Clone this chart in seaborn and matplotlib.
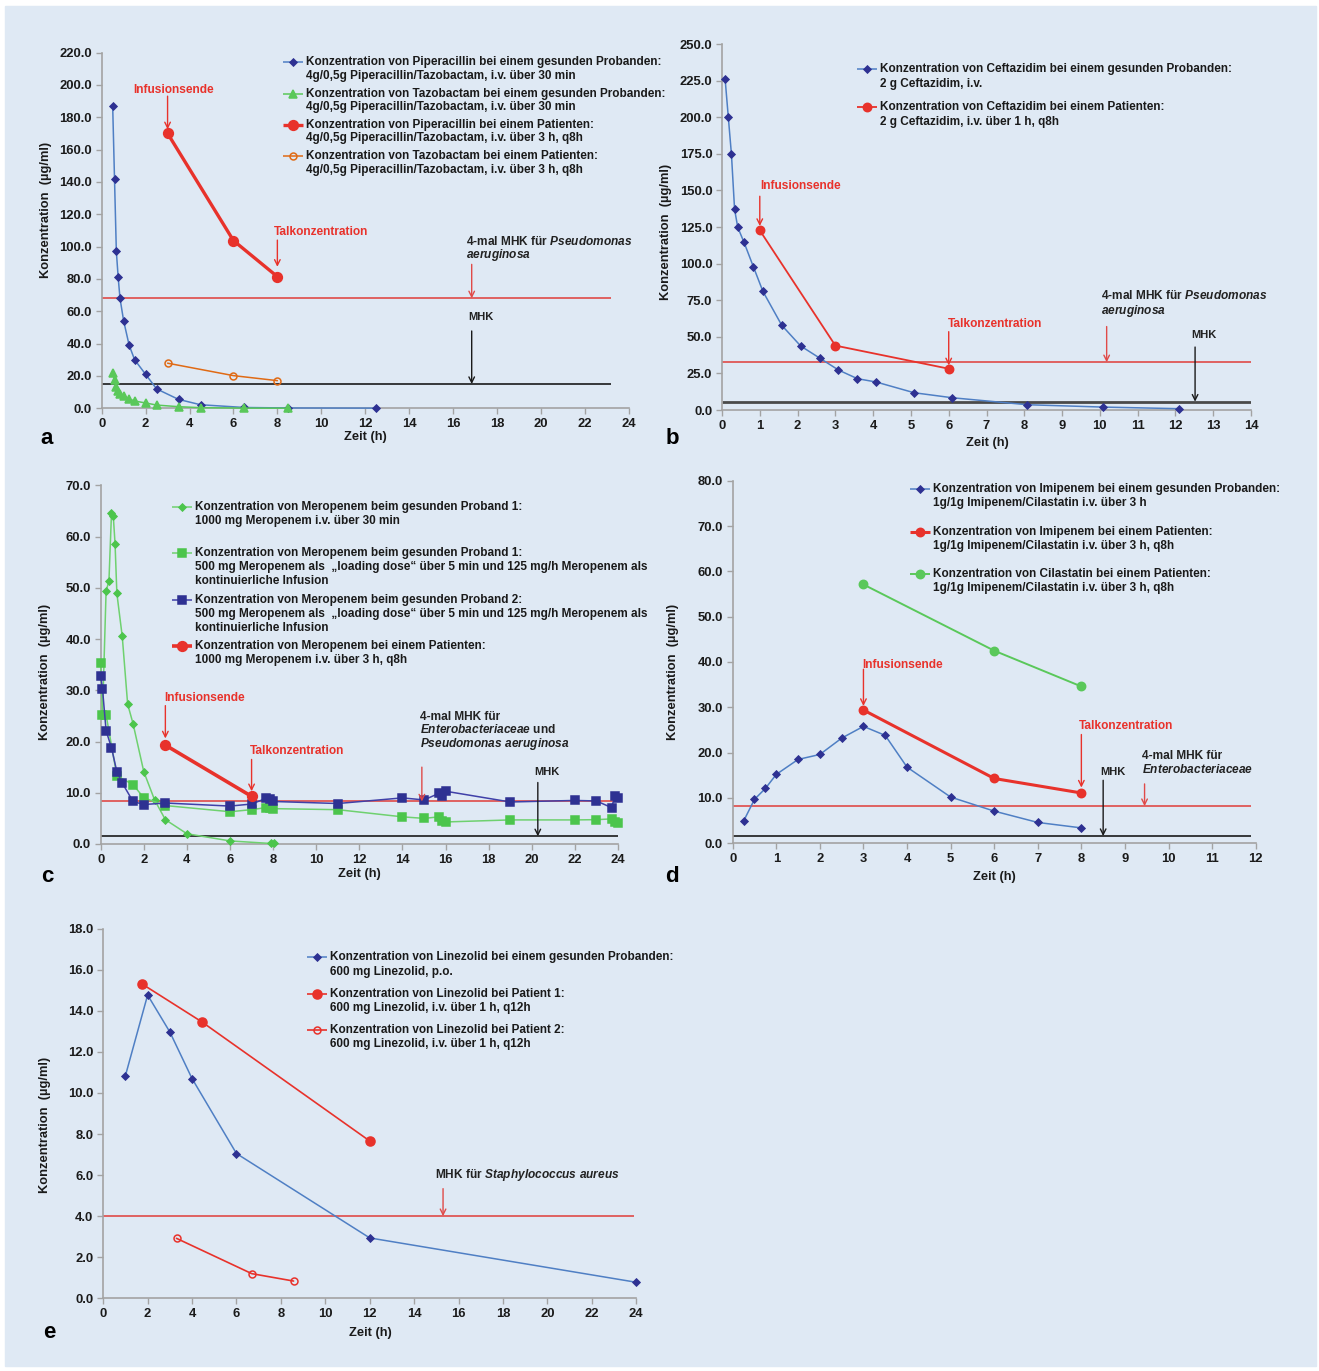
import matplotlib
matplotlib.use("Agg")
import matplotlib.pyplot as plt
import seaborn as sns
from matplotlib.patches import Rectangle

sns.set_style("ticks")
plt.rcParams['font.family'] = ['Liberation Sans', 'DejaVu Sans']
plt.rcParams['mathtext.fontset'] = 'custom'
plt.rcParams['mathtext.it'] = 'Liberation Sans:italic:bold'
plt.rcParams['mathtext.rm'] = 'Liberation Sans:bold'

W, H = 1319, 1371
BG = '#dfe9f4'
BLUE_LINE, BLUE_MK = '#4f7fc4', '#2e3192'
RED, ORANGE = '#e8322b', '#e06a14'
GREEN = '#5ac85a'
REFRED, BLACK = '#e04a48', '#1a1a1a'
LEG_FS, ANN_FS, TICK_FS, AX_FS = 8.5, 8.6, 9.4, 9.3

# ---------------- data ----------------
# a: Piperacillin / Tazobactam
a_pip_h_t = [0.5, 0.583, 0.667, 0.75, 0.833, 1, 1.25, 1.5, 2, 2.5, 3.5, 4.5, 6.5, 8.5, 12.5]
a_pip_h_c = [187, 142, 97, 81, 68, 54, 39, 30, 21, 12, 5.5, 2.2, 0.5, 0.2, 0.1]
a_taz_h_t = [0.5, 0.583, 0.667, 0.75, 0.833, 1, 1.25, 1.5, 2, 2.5, 3.5, 4.5, 6.5, 8.5]
a_taz_h_c = [22, 17.5, 13.4, 11, 8.7, 7.8, 5.8, 4.5, 3.3, 2.0, 1.0, 0.4, 0.1, 0.05]
a_pip_p_t = [3, 6, 8]
a_pip_p_c = [170, 103.7, 81.4]
a_taz_p_t = [3, 6, 8]
a_taz_p_c = [27.9, 20.2, 17.1]
a_mhk4, a_mhk, a_end = 68, 15, 23.2

# b: Ceftazidim
b_h_t = [0.083, 0.167, 0.25, 0.333, 0.417, 0.583, 0.833, 1.083, 1.583, 2.083, 2.583,
         3.083, 3.583, 4.083, 5.083, 6.083, 8.083, 10.083, 12.083]
b_h_c = [225.9, 200, 174.6, 137, 124.8, 114.5, 97.7, 81, 57.8, 43.7, 35.5,
         27.3, 21.4, 19.1, 11.8, 8.4, 3.6, 2.0, 0.9]
b_p_t = [1, 3, 6]
b_p_c = [122.7, 44, 28.2]
b_mhk4, b_mhk, b_end = 32.6, 5.7, 14

# c: Meropenem
c_p1_bolus_t = [0.083, 0.25, 0.383, 0.5, 0.583, 0.667, 0.75, 1, 1.25, 1.5, 2, 2.5, 3, 4, 6, 7.9, 8.05]
c_p1_bolus_c = [25.2, 49.3, 51.4, 64.5, 64.1, 58.5, 48.9, 40.5, 27.3, 23.5, 14.1, 8.6, 4.75, 2.0, 0.6, 0.1, 0.1]
c_p1_cont_t = [0, 0.083, 0.25, 0.75, 1.5, 2, 3, 6, 7, 7.67, 7.84, 8, 11, 14, 15, 15.7, 15.85,
               16, 19, 22, 23, 23.7, 23.85, 24]
c_p1_cont_c = [35.4, 25.2, 25.2, 13.3, 11.6, 9.0, 7.5, 6.3, 6.7, 7.1, 7.1, 6.9, 6.7, 5.3, 5.0, 5.3,
               4.4, 4.3, 4.7, 4.7, 4.75, 4.9, 4.2, 4.1]
c_p2_cont_t = [0, 0.083, 0.25, 0.5, 0.75, 1, 1.5, 2, 3, 6, 7, 7.67, 7.85, 8, 11, 14, 15, 15.7,
               15.85, 16, 19, 22, 23, 23.7, 23.85, 24]
c_p2_cont_c = [32.8, 30.3, 22.1, 18.8, 14.1, 11.9, 8.3, 7.7, 8.0, 7.4, 7.8, 8.9, 8.7, 8.3, 7.9,
               9.0, 8.6, 9.9, 9.4, 10.3, 8.2, 8.5, 8.4, 7.1, 9.3, 9.0]
c_pat_t = [3, 7]
c_pat_c = [19.3, 9.3]
c_mhk4, c_mhk, c_end = 8.3, 1.5, 24

# d: Imipenem / Cilastatin
d_h_t = [0.25, 0.5, 0.75, 1, 1.5, 2, 2.5, 3, 3.5, 4, 5, 6, 7, 8]
d_h_c = [4.9, 9.7, 12.1, 15.2, 18.5, 19.6, 23.2, 25.8, 23.8, 16.8, 10.2, 7.1, 4.6, 3.4]
d_imi_p_t = [3, 6, 8]
d_imi_p_c = [29.4, 14.3, 11.1]
d_cil_p_t = [3, 6, 8]
d_cil_p_c = [57.1, 42.5, 34.6]
d_mhk4, d_mhk, d_end = 8.2, 1.6, 11.9

# e: Linezolid
e_h_t = [1, 2, 3, 4, 6, 12, 24]
e_h_c = [10.84, 14.77, 12.97, 10.7, 7.05, 2.94, 0.78]
e_p1_t = [1.76, 4.43, 12]
e_p1_c = [15.3, 13.47, 7.66]
e_p2_t = [3.3, 6.69, 8.57]
e_p2_c = [2.92, 1.2, 0.84]
e_mhk, e_end = 4.0, 23.9

# legend texts
leg_a = [["Konzentration von Piperacillin bei einem gesunden Probanden:",
          "4g/0,5g Piperacillin/Tazobactam, i.v. über 30 min"],
         ["Konzentration von Tazobactam bei einem gesunden Probanden:",
          "4g/0,5g Piperacillin/Tazobactam, i.v. über 30 min"],
         ["Konzentration von Piperacillin bei einem Patienten:",
          "4g/0,5g Piperacillin/Tazobactam, i.v. über 3 h, q8h"],
         ["Konzentration von Tazobactam bei einem Patienten:",
          "4g/0,5g Piperacillin/Tazobactam, i.v. über 3 h, q8h"]]
leg_b = [["Konzentration von Ceftazidim bei einem gesunden Probanden:", "2 g Ceftazidim, i.v."],
         ["Konzentration von Ceftazidim bei einem Patienten:", "2 g Ceftazidim, i.v. über 1 h, q8h"]]
leg_c = [["Konzentration von Meropenem beim gesunden Proband 1:", "1000 mg Meropenem i.v. über 30 min"],
         ["Konzentration von Meropenem beim gesunden Proband 1:",
          "500 mg Meropenem als  \u201eloading dose\u201c über 5 min und 125 mg/h Meropenem als",
          "kontinuierliche Infusion"],
         ["Konzentration von Meropenem beim gesunden Proband 2:",
          "500 mg Meropenem als  \u201eloading dose\u201c über 5 min und 125 mg/h Meropenem als",
          "kontinuierliche Infusion"],
         ["Konzentration von Meropenem bei einem Patienten:", "1000 mg Meropenem i.v. über 3 h, q8h"]]
leg_d = [["Konzentration von Imipenem bei einem gesunden Probanden:",
          "1g/1g Imipenem/Cilastatin i.v. über 3 h"],
         ["Konzentration von Imipenem bei einem Patienten:",
          "1g/1g Imipenem/Cilastatin i.v. über 3 h, q8h"],
         ["Konzentration von Cilastatin bei einem Patienten:",
          "1g/1g Imipenem/Cilastatin i.v. über 3 h, q8h"]]
leg_e = [["Konzentration von Linezolid bei einem gesunden Probanden:", "600 mg Linezolid, p.o."],
         ["Konzentration von Linezolid bei Patient 1:", "600 mg Linezolid, i.v. über 1 h, q12h"],
         ["Konzentration von Linezolid bei Patient 2:", "600 mg Linezolid, i.v. über 1 h, q12h"]]

# ---------------- figure ----------------
fig = plt.figure(figsize=(W / 100, H / 100), dpi=100, facecolor='white')
ov = fig.add_axes([0, 0, 1, 1])
ov.set_xlim(0, W)
ov.set_ylim(H, 0)
ov.axis('off')
ov.add_patch(Rectangle((5, 6), 1311, 1360, color=BG, zorder=0))


def panel(x0, x1, y_top, y0, xmax, xstep, ymax, ystep):
    ax = fig.add_axes([x0 / W, 1 - y0 / H, (x1 - x0) / W, (y0 - y_top) / H])
    ax.patch.set_visible(False)
    ax.set_xlim(0, xmax)
    ax.set_ylim(0, ymax)
    ax.set_xticks(range(0, xmax + 1, xstep))
    yt = [i * ystep for i in range(int(round(ymax / ystep)) + 1)]
    ax.set_yticks(yt)
    ax.set_yticklabels([f"{v:.1f}" for v in yt])
    for s in ['top', 'right']:
        ax.spines[s].set_visible(False)
    for s in ['left', 'bottom']:
        ax.spines[s].set_color('#a3a3a3')
        ax.spines[s].set_linewidth(1.2)
    ax.tick_params(direction='out', length=4, width=1, color='#a3a3a3', pad=3,
                   labelsize=TICK_FS, labelcolor=BLACK)
    for lab in ax.get_xticklabels() + ax.get_yticklabels():
        lab.set_fontweight('bold')
    ax.set_xlabel('')
    ax.set_ylabel('')
    return ax


def series(ax, t, c, color, marker, ms, lw, mfc=None, mec=None, mew=1.1, z=4):
    sns.lineplot(x=t, y=c, ax=ax, color=color, lw=lw, marker=marker, ms=ms,
                 mfc=mfc if mfc else color, mec=mec if mec else (mfc if mfc else color),
                 mew=mew, estimator=None, sort=False, clip_on=False, zorder=z)


def blue(ax, t, c):
    series(ax, t, c, BLUE_LINE, 'D', 4, 1.1, BLUE_MK, mew=0.6)


def ref(ax, y, end, color, lw=1.2):
    ax.hlines(y, 0, end, color=color, lw=lw, zorder=2)


def arrow(ax, x, y_from, y_to, color):
    ax.annotate('', xy=(x, y_to), xytext=(x, y_from),
                arrowprops=dict(arrowstyle='->', color=color, lw=1.0,
                                mutation_scale=10, shrinkA=0, shrinkB=0), zorder=5)


def label(ax, x, y, s, color, ha='center', fs=ANN_FS):
    ax.text(x, y, s, color=color, ha=ha, va='center', fontsize=fs, fontweight='bold', zorder=6)


def legend(x, ys, texts, styles, step=14):
    for y, lines, st in zip(ys, texts, styles):
        color, marker, ms, lw, mfc, mec, mew = st
        ov.plot([x, x + 20], [y, y], color=color, lw=lw, solid_capstyle='butt', zorder=3)
        ov.plot([x + 10], [y], marker=marker, ms=ms, mfc=mfc, mec=mec, mew=mew, ls='none', zorder=4)
        for i, s in enumerate(lines):
            ov.text(x + 23, y + i * step, s, ha='left', va='center', fontsize=LEG_FS,
                    fontweight='bold', color=BLACK)


def axis_labels(ylab_xy, xlab_xy, letter_xy, letter):
    ov.text(*ylab_xy, 'Konzentration  (µg/ml)', rotation=90, ha='center', va='center',
            fontsize=AX_FS, fontweight='bold', color=BLACK)
    ov.text(*xlab_xy, 'Zeit (h)', ha='center', va='center', fontsize=AX_FS,
            fontweight='bold', color=BLACK)
    ov.text(*letter_xy, letter, ha='center', va='center', fontsize=16,
            fontweight='bold', color='black')


MHK4 = '4-mal MHK für '
BLUE_ST = (BLUE_LINE, 'D', 4, 1.1, BLUE_MK, BLUE_MK, 0.6)

# ---- panel a ----
ax = panel(101.7, 628.7, 52.5, 408.3, 24, 2, 220, 20)
ref(ax, a_mhk4, a_end, REFRED)
ref(ax, a_mhk, a_end, BLACK)
blue(ax, a_pip_h_t, a_pip_h_c)
series(ax, a_taz_h_t, a_taz_h_c, GREEN, '^', 5.5, 1.1)
series(ax, a_pip_p_t, a_pip_p_c, RED, 'o', 7, 2.4)
series(ax, a_taz_p_t, a_taz_p_c, ORANGE, 'o', 5, 1.1, 'none', ORANGE)
label(ax, 3.25, 197, 'Infusionsende', RED)
arrow(ax, 3, 193, 172.5, RED)
label(ax, 10.0, 109, 'Talkonzentration', RED)
arrow(ax, 8, 104, 87.5, RED)
label(ax, 16.6, 103.4, MHK4 + r'$\mathit{Pseudomonas}$', '#222222', ha='left')
label(ax, 16.6, 94.8, r'$\mathit{aeruginosa}$', '#222222', ha='left')
arrow(ax, 16.85, 89, 68, REFRED)
label(ax, 17.26, 56.2, 'MHK', '#222222', fs=8)
arrow(ax, 16.85, 47.8, 15, BLACK)
legend(283, [62, 93.5, 125, 156], leg_a,
       [BLUE_ST, (GREEN, '^', 5.5, 1.1, GREEN, GREEN, 1.1),
        (RED, 'o', 7, 2.4, RED, RED, 1.1), (ORANGE, 'o', 5, 1.1, 'none', ORANGE, 1.1)], step=13.5)
axis_labels((46, 210), (365, 437), (47, 439), 'a')

# ---- panel b ----
ax = panel(722, 1251, 44, 410, 14, 1, 250, 25)
ref(ax, b_mhk4, b_end, REFRED)
ref(ax, b_mhk, b_end, '#4a4a4a', lw=2)
blue(ax, b_h_t, b_h_c)
series(ax, b_p_t, b_p_c, RED, 'o', 6, 1.3)
label(ax, 2.08, 153, 'Infusionsende', RED)
arrow(ax, 1.0, 146, 125.7, RED)
label(ax, 7.23, 58.7, 'Talkonzentration', RED)
arrow(ax, 6, 53.5, 30.5, RED)
label(ax, 10.04, 78.5, MHK4 + r'$\mathit{Pseudomonas}$', '#222222', ha='left')
label(ax, 10.04, 67.6, r'$\mathit{aeruginosa}$', '#222222', ha='left')
arrow(ax, 10.18, 57, 32.6, REFRED)
label(ax, 12.76, 51, 'MHK', '#222222', fs=8)
arrow(ax, 12.52, 43, 5.7, BLACK)
legend(857, [69, 107], leg_b, [BLUE_ST, (RED, 'o', 6, 1.3, RED, RED, 1.1)], step=15)
axis_labels((666, 232), (987, 443), (672, 439), 'b')

# ---- panel c ----
ax = panel(100.7, 618, 485.3, 844, 24, 2, 70, 10)
ref(ax, c_mhk4, c_end, REFRED)
ref(ax, c_mhk, c_end, BLACK)
series(ax, c_p1_bolus_t, c_p1_bolus_c, '#6fd16f', 'D', 4, 1.1, '#4cc54c', mew=0.6)
series(ax, c_p1_cont_t, c_p1_cont_c, '#6fd16f', 's', 5.5, 1.1, '#4cc54c')
series(ax, c_p2_cont_t, c_p2_cont_c, '#4040a8', 's', 5.5, 1.1, '#2e3192')
series(ax, c_pat_t, c_pat_c, RED, 'o', 7, 2.6)
label(ax, 4.83, 28.4, 'Infusionsende', RED)
arrow(ax, 3, 27, 20.6, RED)
label(ax, 9.1, 18.1, 'Talkonzentration', RED)
arrow(ax, 7, 16.5, 10.3, RED)
label(ax, 14.8, 24.7, '4-mal MHK für', '#222222', ha='left')
label(ax, 14.8, 22.25, r'$\mathit{Enterobacteriaceae}$' + ' und', '#222222', ha='left')
label(ax, 14.8, 19.5, r'$\mathit{Pseudomonas\ aeruginosa}$', '#222222', ha='left')
arrow(ax, 14.9, 15, 8.3, REFRED)
label(ax, 20.7, 14.1, 'MHK', '#222222', fs=8)
arrow(ax, 20.28, 12, 1.5, BLACK)
legend(172, [507, 553, 600, 646], leg_c,
       [('#6fd16f', 'D', 4, 1.1, '#4cc54c', '#4cc54c', 0.6),
        ('#6fd16f', 's', 5.5, 1.1, '#4cc54c', '#4cc54c', 1.1),
        ('#4040a8', 's', 5.5, 1.1, '#2e3192', '#2e3192', 1.1),
        (RED, 'o', 7, 2.6, RED, RED, 1.1)], step=13.8)
axis_labels((45, 672), (359, 874), (47, 877), 'c')

# ---- panel d ----
ax = panel(732.7, 1255.7, 480.7, 843.3, 12, 1, 80, 10)
ref(ax, d_mhk4, d_end, REFRED)
ref(ax, d_mhk, d_end, BLACK)
blue(ax, d_h_t, d_h_c)
series(ax, d_imi_p_t, d_imi_p_c, RED, 'o', 6, 2.2)
series(ax, d_cil_p_t, d_cil_p_c, GREEN, 'o', 6, 1.4)
label(ax, 3.9, 39.4, 'Infusionsende', RED)
arrow(ax, 3, 38.4, 30.3, RED)
label(ax, 9.03, 25.9, 'Talkonzentration', RED)
arrow(ax, 8, 24.0, 12.3, RED)
label(ax, 9.4, 19.3, '4-mal MHK für', '#222222', ha='left')
label(ax, 9.4, 16.2, r'$\mathit{Enterobacteriaceae}$', '#222222', ha='left')
arrow(ax, 9.45, 13.1, 8.2, REFRED)
label(ax, 8.72, 15.7, 'MHK', '#222222', fs=8)
arrow(ax, 8.5, 13.9, 1.6, BLACK)
legend(910, [489, 532, 574], leg_d,
       [BLUE_ST, (RED, 'o', 6, 2.2, RED, RED, 1.1), (GREEN, 'o', 6, 1.4, GREEN, GREEN, 1.1)], step=14)
axis_labels((673, 672), (994, 877), (672, 877), 'd')

# ---- panel e ----
ax = panel(103.2, 636.3, 928.7, 1298.3, 24, 2, 18, 2)
ref(ax, e_mhk, e_end, REFRED)
blue(ax, e_h_t, e_h_c)
series(ax, e_p1_t, e_p1_c, RED, 'o', 6.5, 1.2)
series(ax, e_p2_t, e_p2_c, RED, 'o', 5, 1.2, 'none', RED)
label(ax, 14.95, 6.0, 'MHK für ' + r'$\mathit{Staphylococcus\ aureus}$', '#222222', ha='left')
arrow(ax, 15.3, 5.34, 4.0, REFRED)
legend(307, [957, 994, 1030], leg_e,
       [BLUE_ST, (RED, 'o', 6.5, 1.2, RED, RED, 1.1), (RED, 'o', 5, 1.2, 'none', RED, 1.1)], step=14.5)
axis_labels((45, 1125), (370, 1333), (49, 1333), 'e')

fig.savefig('out.png', dpi=100, facecolor='white')
